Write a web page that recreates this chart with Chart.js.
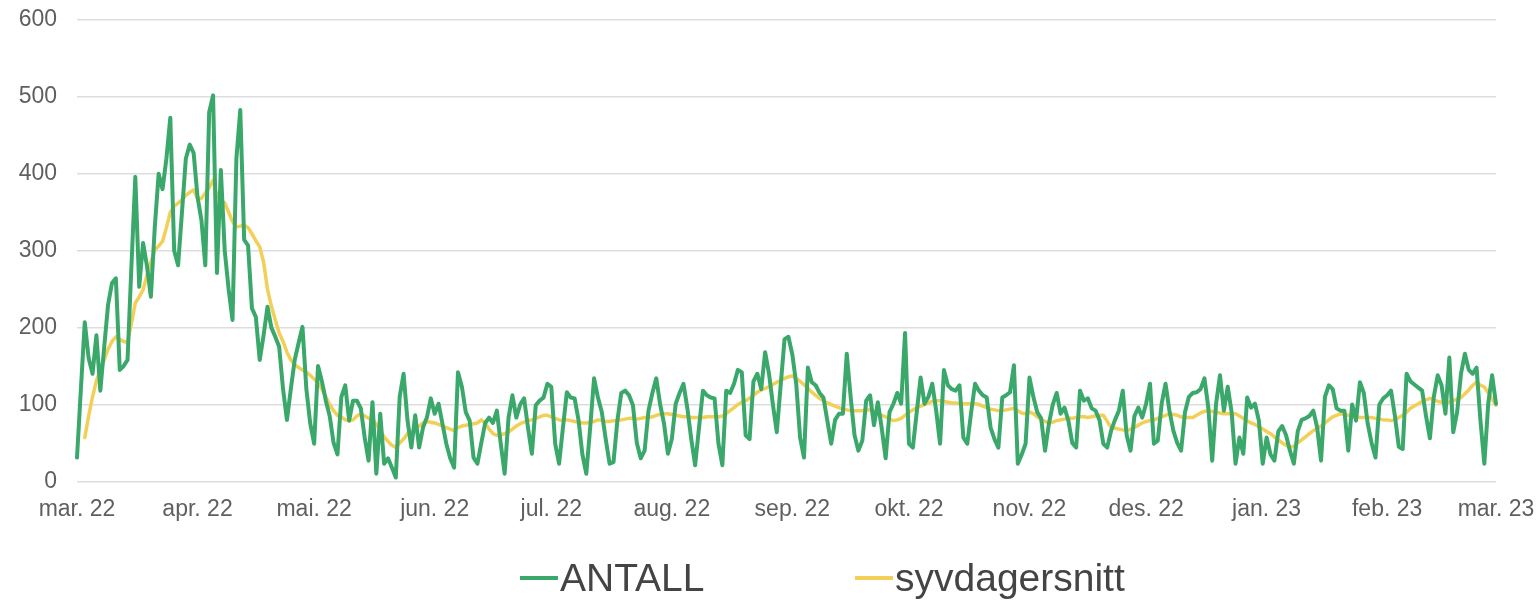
<!DOCTYPE html>
<html lang="no">
<head>
  <meta charset="UTF-8" />
  <title>ANTALL og syvdagersnitt</title>
  <script src="https://cdn.jsdelivr.net/npm/chart.js"></script>
  <style>
    body {
      margin: 0;
      background: #fff;
      font-family: 'Liberation Sans', Arial, sans-serif;
    }

    .wrap {
      position: relative;
      width: 1539px;
      height: 600px;
    }

    .legend {
      position: absolute;
      top: 556px;
      left: 0;
      width: 100%;
      height: 44px;
    }

    .legend .item {
      position: absolute;
      top: 0;
      display: flex;
      align-items: center;
      height: 44px;
      font-size: 39px;
      color: #444;
      white-space: nowrap;
    }

    .legend .swatch {
      display: inline-block;
      width: 38px;
      height: 4px;
      margin-right: 2px;
    }
  </style>
</head>
<body>
  <div class="wrap">
    <canvas id="chart" width="1539" height="600"></canvas>
    <div class="legend" id="legend"></div>
  </div>

  <script>
    // tick labels for the first day of each month
    const monthLabels = ['mar. 22', 'apr. 22', 'mai. 22', 'jun. 22', 'jul. 22', 'aug. 22', 'sep. 22',
      'okt. 22', 'nov. 22', 'des. 22', 'jan. 23', 'feb. 23', 'mar. 23'];

    // daily count, 1 March 2022 .. 1 March 2023
    const antall = [
      31, 120, 207, 160, 140, 190, 118, 175, 230, 258,
      264, 145, 150, 158, 280, 396, 253, 310, 280, 240,
      330, 400, 380, 420, 473, 300, 281, 350, 420, 438,
      427, 370, 340, 281, 480, 502, 271, 405, 300, 250,
      210, 420, 483, 314, 307, 225, 214, 158, 190, 227,
      200, 188, 175, 120, 80, 120, 158, 180, 201, 120,
      75, 49, 150, 130, 105, 85, 50, 35, 110, 125,
      79, 105, 105, 95, 57, 27, 103, 10, 88, 23,
      30, 18, 5, 110, 140, 80, 44, 86, 44, 70,
      83, 108, 88, 101, 75, 49, 30, 18, 142, 123,
      90, 79, 31, 23, 50, 76, 83, 76, 92, 49,
      10, 83, 112, 83, 100, 108, 70, 36, 99, 105,
      109, 127, 123, 49, 23, 70, 116, 109, 108, 80,
      35, 10, 70, 134, 109, 90, 55, 23, 25, 79,
      115, 118, 112, 99, 50, 30, 40, 92, 115, 134,
      100, 75, 36, 55, 101, 115, 127, 95, 55, 21,
      70, 118, 112, 109, 108, 49, 21, 118, 115, 127,
      145, 142, 60, 55, 130, 140, 120, 168, 140, 100,
      64, 125, 185, 188, 165, 127, 57, 31, 148, 129,
      125, 115, 109, 79, 49, 80, 88, 88, 166, 110,
      60, 40, 53, 105, 112, 73, 103, 69, 30, 90,
      101, 115, 101, 193, 49, 44, 90, 135, 101, 110,
      127, 92, 49, 145, 125, 120, 118, 125, 57, 49,
      90, 127, 118, 112, 109, 70, 55, 44, 109, 112,
      116, 151, 23, 35, 49, 135, 110, 90, 82, 40,
      75, 100, 115, 88, 96, 79, 50, 44, 118, 105,
      108, 95, 92, 80, 49, 44, 66, 80, 92, 118,
      60, 40, 85, 96, 83, 101, 127, 49, 53, 101,
      127, 92, 66, 50, 40, 90, 110, 115, 116, 120,
      134, 96, 27, 101, 138, 92, 123, 90, 23, 57,
      36, 109, 96, 101, 79, 23, 57, 35, 27, 65,
      72, 60, 40, 23, 65, 80, 82, 85, 92, 70,
      27, 110, 125, 120, 95, 92, 92, 40, 100, 79,
      129, 115, 75, 50, 31, 100, 108, 112, 118, 85,
      45, 42, 140, 130, 126, 122, 118, 85, 56, 110,
      138, 125, 88, 161, 64, 90, 140, 166, 145, 140,
      148, 79, 23, 101, 138, 101
    ];

    // seven-day average
    const syvdagersnitt = [
      null, null, 57, 85, 110, 131, 145, 158, 172, 182,
      188, 185, 182, 181, 205, 232, 240, 249, 268, 285,
      301, 306, 312, 330, 350, 358, 362, 366, 372, 376,
      379, 368, 368, 375, 382, 392, 372, 366, 362, 350,
      338, 331, 332, 333, 330, 322, 313, 305, 285, 250,
      228, 210, 193, 182, 168, 158, 152, 148, 145, 142,
      138, 133, 128, 120, 110, 100, 92, 86, 84, 80,
      79, 80, 85, 88, 85, 82, 80, 74, 66, 58,
      52, 47, 44, 50, 55, 62, 64, 68, 72, 76,
      78, 77, 76, 74, 72, 70, 68, 66, 70, 72,
      73, 74, 75, 76, 80, 76, 68, 62, 60, 61,
      62, 64, 68, 72, 75, 77, 79, 80, 82, 84,
      86, 86, 84, 82, 80, 79, 80, 79, 78, 77,
      76, 76, 77, 78, 80, 79, 78, 78, 79, 79,
      80, 81, 82, 82, 81, 82, 83, 83, 84, 86,
      87, 88, 88, 87, 86, 85, 84, 84, 83, 83,
      83, 83, 84, 84, 84, 84, 85, 88, 92, 96,
      100, 103, 105, 108, 112, 116, 119, 121, 123, 126,
      129, 131, 134, 136, 137, 134, 130, 126, 121, 116,
      112, 108, 105, 102, 100, 98, 96, 94, 93, 92,
      92, 92, 92, 93, 93, 91, 88, 86, 84, 81,
      79, 80, 82, 86, 90, 93, 96, 98, 100, 102,
      104, 105, 105, 104, 103, 102, 102, 101, 101, 101,
      101, 101, 100, 98, 96, 94, 93, 92, 92, 93,
      94, 95, 92, 89, 88, 90, 88, 84, 80, 78,
      76, 77, 79, 80, 81, 82, 82, 83, 84, 84,
      83, 84, 85, 86, 86, 78, 70, 69, 68, 67,
      66, 68, 70, 73, 76, 78, 79, 80, 82, 84,
      86, 88, 87, 86, 84, 83, 83, 83, 86, 89,
      91, 92, 91, 90, 89, 88, 88, 88, 88, 85,
      82, 79, 76, 74, 71, 68, 65, 62, 58, 54,
      50, 47, 44, 46, 50, 54, 58, 62, 66, 69,
      72, 76, 80, 84, 86, 88, 87, 86, 85, 84,
      83, 83, 83, 83, 82, 81, 80, 80, 79, 80,
      83, 86, 90, 95, 98, 101, 104, 106, 108, 106,
      104, 103, 101, 103, 105, 107, 109, 114, 119, 125,
      129, 125, 123, 115, 107, 99
    ];

    // one category per day
    const start = Date.UTC(2022, 2, 1);
    const days = antall.map((_, i) => new Date(start + i * 86400000));
    const labels = days.map(d => d.toISOString().slice(0, 10));

    const tickText = {};
    let m = 0;
    days.forEach((d, i) => {
      if (d.getUTCDate() === 1) tickText[i] = monthLabels[m++];
    });

    const green = '#3aa86b';
    const yellow = '#f4cf58';
    const tickFont = { family: "'Liberation Sans', Arial, sans-serif", size: 23 };

    const chart = new Chart(document.getElementById('chart'), {
      type: 'line',
      data: {
        labels: labels,
        datasets: [
          { label: 'ANTALL', data: antall, borderColor: green, backgroundColor: green, borderWidth: 4 },
          { label: 'syvdagersnitt', data: syvdagersnitt, borderColor: yellow, backgroundColor: yellow, borderWidth: 3.5 }
        ]
      },
      options: {
        responsive: false,
        devicePixelRatio: 1,
        animation: false,
        layout: { padding: { left: 0, right: 43, top: 20, bottom: 63 } },
        elements: {
          point: { radius: 0 },
          line: { tension: 0, borderJoinStyle: 'round', borderCapStyle: 'round' }
        },
        plugins: {
          legend: { display: false },
          tooltip: { enabled: false }
        },
        scales: {
          x: {
            afterFit: scale => { scale.paddingLeft = 0; scale.paddingRight = 0; },
            grid: { display: false, drawTicks: false },
            border: { display: false },
            ticks: {
              autoSkip: false,
              maxRotation: 0,
              minRotation: 0,
              padding: 14,
              color: '#5f5f5f',
              font: tickFont,
              callback: (v, i) => tickText[i] !== undefined ? tickText[i] : null
            }
          },
          y: {
            min: 0,
            max: 600,
            afterFit: scale => { scale.width = 77; scale.paddingTop = 0; scale.paddingBottom = 0; },
            grid: { color: '#dddddd', lineWidth: 1.5, drawTicks: false },
            border: { display: false },
            ticks: {
              stepSize: 100,
              padding: 20,
              color: '#5f5f5f',
              font: tickFont
            }
          }
        }
      }
    });

    // legend below the plot, built from the datasets
    const legendLeft = [520, 855];
    const legend = document.getElementById('legend');
    chart.data.datasets.forEach((ds, i) => {
      const item = document.createElement('div');
      item.className = 'item';
      item.style.left = legendLeft[i] + 'px';
      item.innerHTML = '<span class="swatch" style="background:' + ds.borderColor + '"></span>' + ds.label;
      legend.appendChild(item);
    });
  </script>
</body>
</html>
